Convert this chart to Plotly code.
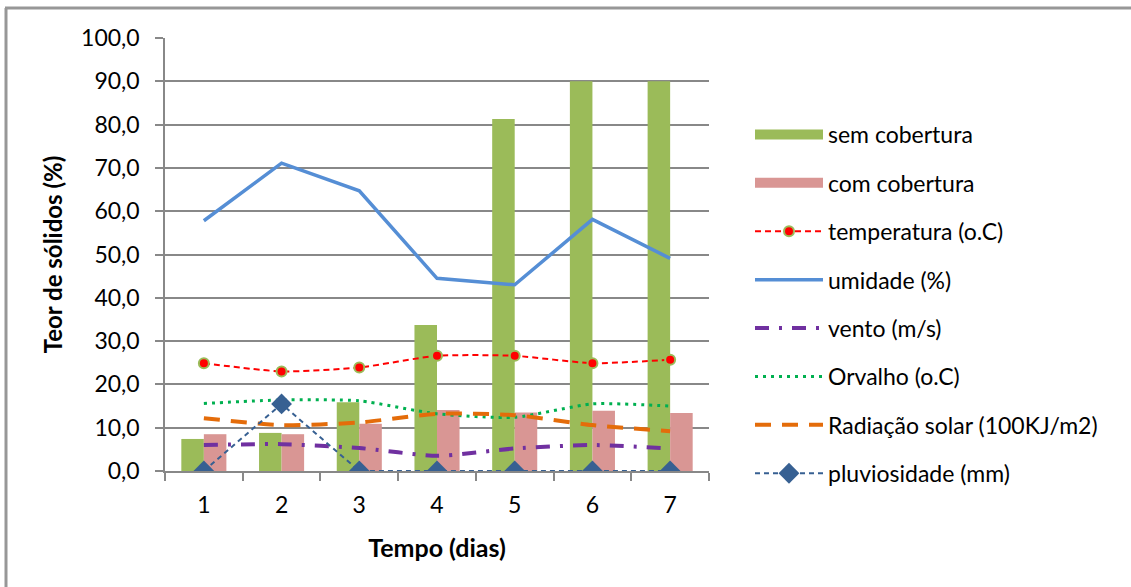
import plotly.graph_objects as go

# Dias de observação
dias = ["1", "2", "3", "4", "5", "6", "7"]

# Teor de sólidos (%)
sem_cobertura = [7.4, 8.8, 15.9, 33.7, 81.3, 90.0, 90.0]
com_cobertura = [8.5, 8.5, 10.9, 14.1, 13.5, 13.9, 13.4]

# Variáveis climáticas
temperatura = [24.9, 23.0, 23.9, 26.6, 26.6, 24.9, 25.7]
umidade = [57.8, 71.1, 64.7, 44.5, 43.0, 58.1, 49.1]
vento = [6.0, 6.2, 5.3, 3.5, 5.2, 6.0, 5.2]
orvalho = [15.6, 16.4, 16.2, 13.2, 12.4, 15.5, 15.0]
radiacao = [12.2, 10.6, 11.2, 13.2, 12.9, 10.6, 9.2]
pluviosidade = [0.0, 15.5, 0.0, 0.0, 0.0, 0.0, 0.0]

FONT = "Lato"
GRID = "#888888"
VERDE = "#9BBB59"
ROSA = "#D99694"

fig = go.Figure()

# Barras (a entrada de legenda é feita por um traço auxiliar mais largo)
fig.add_trace(go.Bar(x=dias, y=sem_cobertura, name="sem cobertura",
                     marker=dict(color=VERDE, line=dict(width=0)),
                     legendgroup="a", showlegend=False))
fig.add_trace(go.Bar(x=dias, y=com_cobertura, name="com cobertura",
                     marker=dict(color=ROSA, line=dict(width=0)),
                     legendgroup="b", showlegend=False))
fig.add_trace(go.Scatter(x=[None], y=[None], name="sem cobertura", mode="lines",
                         line=dict(color=VERDE, width=16), legendgroup="a",
                         hoverinfo="skip"))
fig.add_trace(go.Scatter(x=[None], y=[None], name="com cobertura", mode="lines",
                         line=dict(color=ROSA, width=16), legendgroup="b",
                         hoverinfo="skip"))

fig.add_trace(go.Scatter(x=dias, y=temperatura, name="temperatura (o.C)",
                         mode="lines+markers",
                         line=dict(color="#FF0000", width=2, dash="6px,4px",
                                   shape="spline", smoothing=0.6),
                         marker=dict(color="#FF0000", size=10,
                                     line=dict(color=VERDE, width=2)),
                         legendgroup="c"))
fig.add_trace(go.Scatter(x=dias, y=umidade, name="umidade (%)", mode="lines",
                         line=dict(color="#558ED5", width=3.5),
                         legendgroup="d"))
fig.add_trace(go.Scatter(x=dias, y=vento, name="vento (m/s)", mode="lines",
                         line=dict(color="#7030A0", width=4,
                                   dash="14px,10px,3px,10px",
                                   shape="spline", smoothing=0.6),
                         legendgroup="e"))
fig.add_trace(go.Scatter(x=dias, y=orvalho, name="Orvalho (o.C)", mode="lines",
                         line=dict(color="#00B050", width=3, dash="3px,5px",
                                   shape="spline", smoothing=0.6),
                         legendgroup="f"))
fig.add_trace(go.Scatter(x=dias, y=radiacao, name="Radiação solar (100KJ/m2)",
                         mode="lines",
                         line=dict(color="#E46C0A", width=4, dash="16px,11px",
                                   shape="spline", smoothing=0.6),
                         legendgroup="g"))
fig.add_trace(go.Scatter(x=dias, y=pluviosidade, name="pluviosidade (mm)",
                         mode="lines+markers",
                         line=dict(color="#376092", width=2, dash="5px,4px"),
                         marker=dict(symbol="diamond", color="#376092", size=16),
                         legendgroup="h"))

# Moldura externa do gráfico (bordas superior e esquerda)
L, R, T, B = 165, 709, 38, 471
def px_x(p):
    return (p - L) / (R - L)
def px_y(p):
    return (B - p) / (B - T)

fig.add_shape(type="line", xref="paper", yref="paper",
              x0=px_x(5), x1=px_x(1135), y0=px_y(8), y1=px_y(8),
              line=dict(color="#979797", width=3))
fig.add_shape(type="line", xref="paper", yref="paper",
              x0=px_x(6), x1=px_x(6), y0=px_y(8), y1=px_y(595),
              line=dict(color="#979797", width=3))

fig.update_layout(
    width=1131, height=587,
    margin=dict(l=L, r=1131 - R, t=T, b=587 - B),
    paper_bgcolor="white", plot_bgcolor="white",
    barmode="group", bargap=0.42, bargroupgap=0.0,
    separators=", ",
    font=dict(family=FONT, size=23, color="#000000"),
    showlegend=True,
    legend=dict(
        x=px_x(750), xanchor="left",
        y=px_y(113), yanchor="top",
        font=dict(family=FONT, size=23),
        itemwidth=68,
        tracegroupgap=15.5,
        bgcolor="rgba(0,0,0,0)",
        traceorder="grouped",
    ),
    xaxis=dict(
        type="category",
        showline=True, linecolor=GRID, linewidth=1.5,
        ticks="outside", tickson="boundaries", ticklen=8, tickcolor=GRID,
        tickwidth=1.5, ticklabelstandoff=13,
        showgrid=False,
        tickfont=dict(family=FONT, size=23),
        title=dict(text="<b>Tempo (dias)</b>", standoff=22,
                   font=dict(family=FONT, size=25)),
    ),
    yaxis=dict(
        range=[0, 100], dtick=10, tickformat=".1f",
        showline=True, linecolor=GRID, linewidth=1.5,
        ticks="outside", ticklen=8, tickcolor=GRID, tickwidth=1.5,
        ticklabelstandoff=11,
        showgrid=True, gridcolor=GRID, gridwidth=1.5,
        zeroline=False,
        tickfont=dict(family=FONT, size=23),
        title=dict(text="<b>Teor de sólidos (%)</b>", standoff=12,
                   font=dict(family=FONT, size=24)),
    ),
)

fig.write_html("out.html")
